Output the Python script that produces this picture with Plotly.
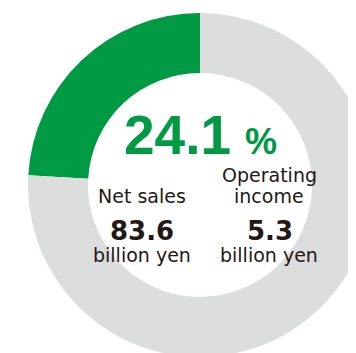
import plotly.graph_objects as go

# ---- data ----
segment_labels = ["Share", "Remainder"]
segment_values = [24.1, 75.9]
segment_colors = ["#009944", "#dcdddd"]

share_text = "24.1"
share_unit = "%"
left_title = "Net sales"
left_value = "83.6"
right_title = ["Operating", "income"]
right_value = "5.3"
unit_text = "billion yen"

# ---- layout helpers (pixel geometry, page coords) ----
W, H = 372, 360
OFF = 8  # page body margin
cx, cy, R = 200, 185, 172
hole_frac = 112 / 172

def px(x):
    return (x - OFF) / W

def py(y):
    return 1 - (y - OFF) / H

# first slice runs counterclockwise from 12 o'clock
first_angle = 360 * segment_values[0] / sum(segment_values)

fig = go.Figure()
fig.add_trace(go.Pie(
    labels=segment_labels,
    values=segment_values,
    marker=dict(colors=segment_colors, line=dict(width=0)),
    hole=hole_frac,
    sort=False,
    direction="counterclockwise",
    rotation=-first_angle,
    textinfo="none",
    hoverinfo="skip",
    showlegend=False,
    domain=dict(x=[px(cx - R), px(cx + R)], y=[py(cy + R), py(cy - R)]),
))

dark = "#231815"
green = segment_colors[0]
ann = []
def add(text, x, y, size, color, bold=False, family="Liberation Sans, Arial, sans-serif"):
    ann.append(dict(
        text=text, x=px(x), y=py(y), xref="paper", yref="paper",
        xanchor="center", yanchor="middle", showarrow=False,
        font=dict(size=size, color=color, family=family, weight="bold" if bold else "normal"),
    ))

add(share_text, 177, 135, 55, green, bold=True)
add(share_unit, 261, 141, 36, green, bold=True)
add(left_title, 141.5, 196, 19, dark, family="DejaVu Sans, sans-serif")
add(right_title[0], 269, 175, 19, dark, family="DejaVu Sans, sans-serif")
add(right_title[1], 269, 196, 19, dark, family="DejaVu Sans, sans-serif")
add(left_value, 141.5, 231, 26, dark, bold=True, family="DejaVu Sans, sans-serif")
add(right_value, 269.5, 231, 26, dark, bold=True, family="DejaVu Sans, sans-serif")
add(unit_text, 142, 255, 19, dark, family="DejaVu Sans, sans-serif")
add(unit_text, 269, 255, 19, dark, family="DejaVu Sans, sans-serif")

fig.update_layout(
    width=W, height=H,
    margin=dict(l=0, r=0, t=0, b=0),
    paper_bgcolor="white",
    plot_bgcolor="white",
    annotations=ann,
)

fig.write_html("out.html")
